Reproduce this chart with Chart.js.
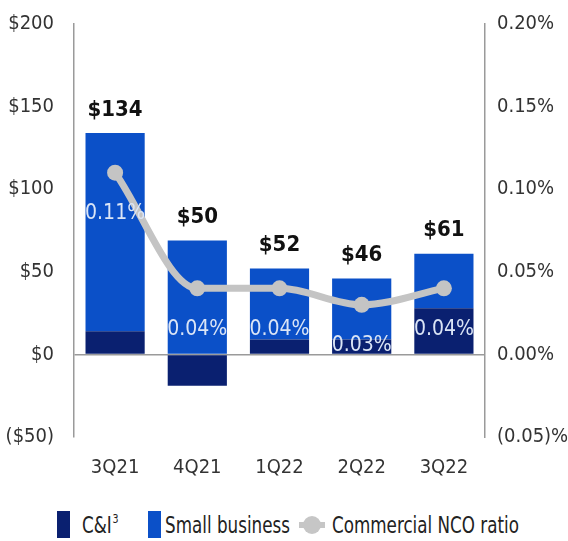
<!DOCTYPE html>
<html>
<head>
<meta charset="utf-8">
<script src="https://cdn.jsdelivr.net/npm/chart.js@4/dist/chart.umd.min.js"></script>
<style>
  body { margin: 0; background: #fff; }
  #wrap { position: relative; width: 568px; height: 541px; overflow: hidden; }
  #graph_ID { position: absolute; left: 0; top: -8px; }
  #legend {
    position: absolute; left: 0; top: 509px; width: 568px; height: 32px;
    font-family: "DejaVu Sans Condensed", "DejaVu Sans", sans-serif;
    font-size: 23px; color: #222;
  }
  .it { position: absolute; top: 0; height: 32px; line-height: 32px; white-space: nowrap;
        transform: scaleX(0.81); transform-origin: left center; }
  .box { position: absolute; top: 2px; width: 13px; height: 27px; }
  sup { font-size: 13px; vertical-align: 0; position: relative; top: -10px; margin-left: 1px; }
</style>
</head>
<body>
<div id="wrap">
  <canvas id="graph_ID" width="568" height="503"></canvas>
  <div id="legend">
    <span class="box" style="left:57px;background:#0a2070"></span>
    <span class="it" style="left:82px">C&amp;I<sup>3</sup></span>
    <span class="box" style="left:148px;background:#0b50c8"></span>
    <span class="it" style="left:165px">Small business</span>
    <svg style="position:absolute;left:299px;top:5px" width="26" height="22">
      <line x1="0" y1="11" x2="26" y2="11" stroke="#c6c6c6" stroke-width="6"/>
      <circle cx="13" cy="11" r="9" fill="#c6c6c6"/>
    </svg>
    <span class="it" style="left:332px">Commercial NCO ratio</span>
  </div>
</div>
<script>
var quarters = ['3Q21', '4Q21', '1Q22', '2Q22', '3Q22'];
var cAndI = [14, -19, 9, 9, 28];
var smallBusiness = [120, 69, 43, 37, 33];
var totals = [134, 50, 52, 46, 61];
var ncoRatio = [0.11, 0.04, 0.04, 0.03, 0.04];

var fam = '"DejaVu Sans Condensed", "DejaVu Sans", sans-serif';

var labelsPlugin = {
  id: 'labels',
  afterDatasetsDraw: function(chart) {
    var ctx = chart.ctx;
    var sb = chart.getDatasetMeta(1);
    var line = chart.getDatasetMeta(2);
    ctx.save();
    ctx.textAlign = 'center';
    ctx.textBaseline = 'middle';
    for (var i = 0; i < quarters.length; i++) {
      var bar = sb.data[i];
      ctx.fillStyle = '#111';
      ctx.font = 'bold 22px ' + fam;
      ctx.fillText('$' + totals[i], bar.x, bar.y - 23);
      var pt = line.data[i];
      ctx.fillStyle = '#dbe5f6';
      ctx.font = '21px ' + fam;
      ctx.fillText(ncoRatio[i].toFixed(2) + '%', pt.x, pt.y + 41);
    }
    ctx.restore();
  }
};

var mychart = document.getElementById('graph_ID').getContext('2d');
var graphique = new Chart(mychart, {
  type: 'bar',
  data: {
    labels: quarters,
    datasets: [
      {
        label: 'C&I',
        data: cAndI,
        backgroundColor: '#0a2070',
        yAxisID: 'y',
        stack: 's',
        order: 1,
        categoryPercentage: 0.8,
        barPercentage: 0.9
      },
      {
        label: 'Small business',
        data: smallBusiness,
        backgroundColor: '#0b50c8',
        yAxisID: 'y',
        stack: 's',
        order: 2,
        categoryPercentage: 0.8,
        barPercentage: 0.9
      },
      {
        label: 'Commercial NCO ratio',
        type: 'line',
        data: ncoRatio,
        yAxisID: 'y1',
        order: 0,
        borderColor: '#c4c4c4',
        backgroundColor: '#c4c4c4',
        borderWidth: 7,
        pointRadius: 8,
        pointBorderWidth: 0,
        cubicInterpolationMode: 'monotone'
      }
    ]
  },
  options: {
    responsive: false,
    animation: false,
    layout: { padding: { top: 11, bottom: 8, left: 0, right: 0 } },
    plugins: {
      legend: { display: false },
      tooltip: { enabled: false }
    },
    scales: {
      x: {
        stacked: true,
        grid: { display: false },
        border: { display: false },
        afterFit: function(s) { s.height = 50; },
        ticks: { color: '#333', font: { family: fam, size: 20 }, padding: 11 }
      },
      y: {
        stacked: true,
        position: 'left',
        min: -50,
        max: 200,
        afterFit: function(s) { s.width = 74; },
        ticks: {
          stepSize: 50,
          color: '#333',
          padding: 20,
          font: { family: fam, size: 20 },
          callback: function(v) { return v < 0 ? '($' + (-v) + ')' : '$' + v; }
        },
        grid: {
          drawTicks: false,
          lineWidth: 1.5,
          color: function(context) {
            if (context.tick.value == 0) {
              return '#9a9a9a';
            }
            return 'rgba(0,0,0,0)';
          }
        },
        border: { color: '#9a9a9a', width: 1.5 }
      },
      y1: {
        position: 'right',
        min: -0.05,
        max: 0.20,
        afterFit: function(s) { s.width = 83; },
        ticks: {
          stepSize: 0.05,
          color: '#333',
          padding: 12,
          font: { family: fam, size: 20 },
          callback: function(v) {
            var r = Math.round(v * 100) / 100;
            return r < 0 ? '(' + (-r).toFixed(2) + ')%' : r.toFixed(2) + '%';
          }
        },
        grid: { display: false, drawTicks: false },
        border: { color: '#9a9a9a', width: 1.5 }
      }
    }
  },
  plugins: [labelsPlugin]
});
</script>
</body>
</html>
